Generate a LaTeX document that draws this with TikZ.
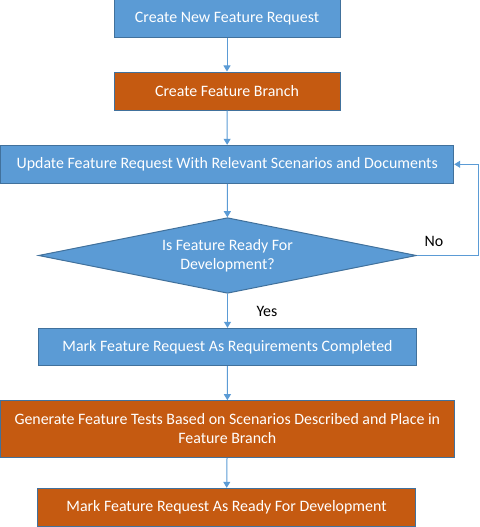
\documentclass[tikz,border=0pt]{standalone}
\usepackage{fontspec}
\setmainfont{Carlito}
\usetikzlibrary{shapes.geometric,arrows.meta}
\definecolor{boxblue}{HTML}{5B9BD5}
\definecolor{boxorange}{HTML}{C55A11}
\definecolor{edgeblue}{HTML}{41719C}
\definecolor{linkblue}{HTML}{5B9BD5}
\begin{document}
\begin{tikzpicture}[x=1pt,y=-1pt,
  every node/.style={font=\fontsize{15.9}{19}\selectfont},
  bluebox/.style={draw=edgeblue,line width=1pt,fill=boxblue,text=white,inner sep=0pt,align=center},
  orangebox/.style={draw=edgeblue,line width=1pt,fill=boxorange,text=white,inner sep=0pt,align=center},
  link/.style={draw=linkblue,line width=1pt,-{Triangle[width=7pt,length=6pt]}},
  lbl/.style={text=black,inner sep=0pt}
]
\useasboundingbox (0,0) rectangle (479,527);
\node[bluebox,minimum width=226pt,minimum height=38pt] (b1) at (227,19) {Create New Feature Request};
\node[orangebox,minimum width=226pt,minimum height=38pt] (b2) at (227,91) {Create Feature Branch};
\node[bluebox,minimum width=453pt,minimum height=38pt] (b3) at (227.2,164.3) {Update Feature Request With Relevant Scenarios and Documents};
\node[bluebox,shape=diamond,aspect=5,minimum width=378pt,minimum height=75.6pt] (d) at (227.5,255.5) {Is Feature Ready For\\Development?};
\node[bluebox,minimum width=378pt,minimum height=37.4pt] (b4) at (227.5,347) {Mark Feature Request As Requirements Completed};
\node[orangebox,minimum width=453.7pt,minimum height=56.6pt] (b5) at (227.3,429) {Generate Feature Tests Based on Scenarios Described and Place in\\Feature Branch};
\node[orangebox,minimum width=378pt,minimum height=38.4pt] (b6) at (226.5,507.5) {Mark Feature Request As Ready For Development};
\coordinate (loopc) at (478,255.5);
\node[lbl] (no) at (434,241.5) {No};
\node[lbl] (yes) at (267,311) {Yes};
\draw[link] (b1) -- (b2);
\draw[link] (b2) -- (b3);
\draw[link] (b3) -- (d);
\draw[link] (d) -- (b4);
\draw[link] (b4) -- (b5);
\draw[link] (b5) -- (b6);
\draw[link] (d.east) -- (loopc) |- (b3.east);
\end{tikzpicture}
\end{document}
